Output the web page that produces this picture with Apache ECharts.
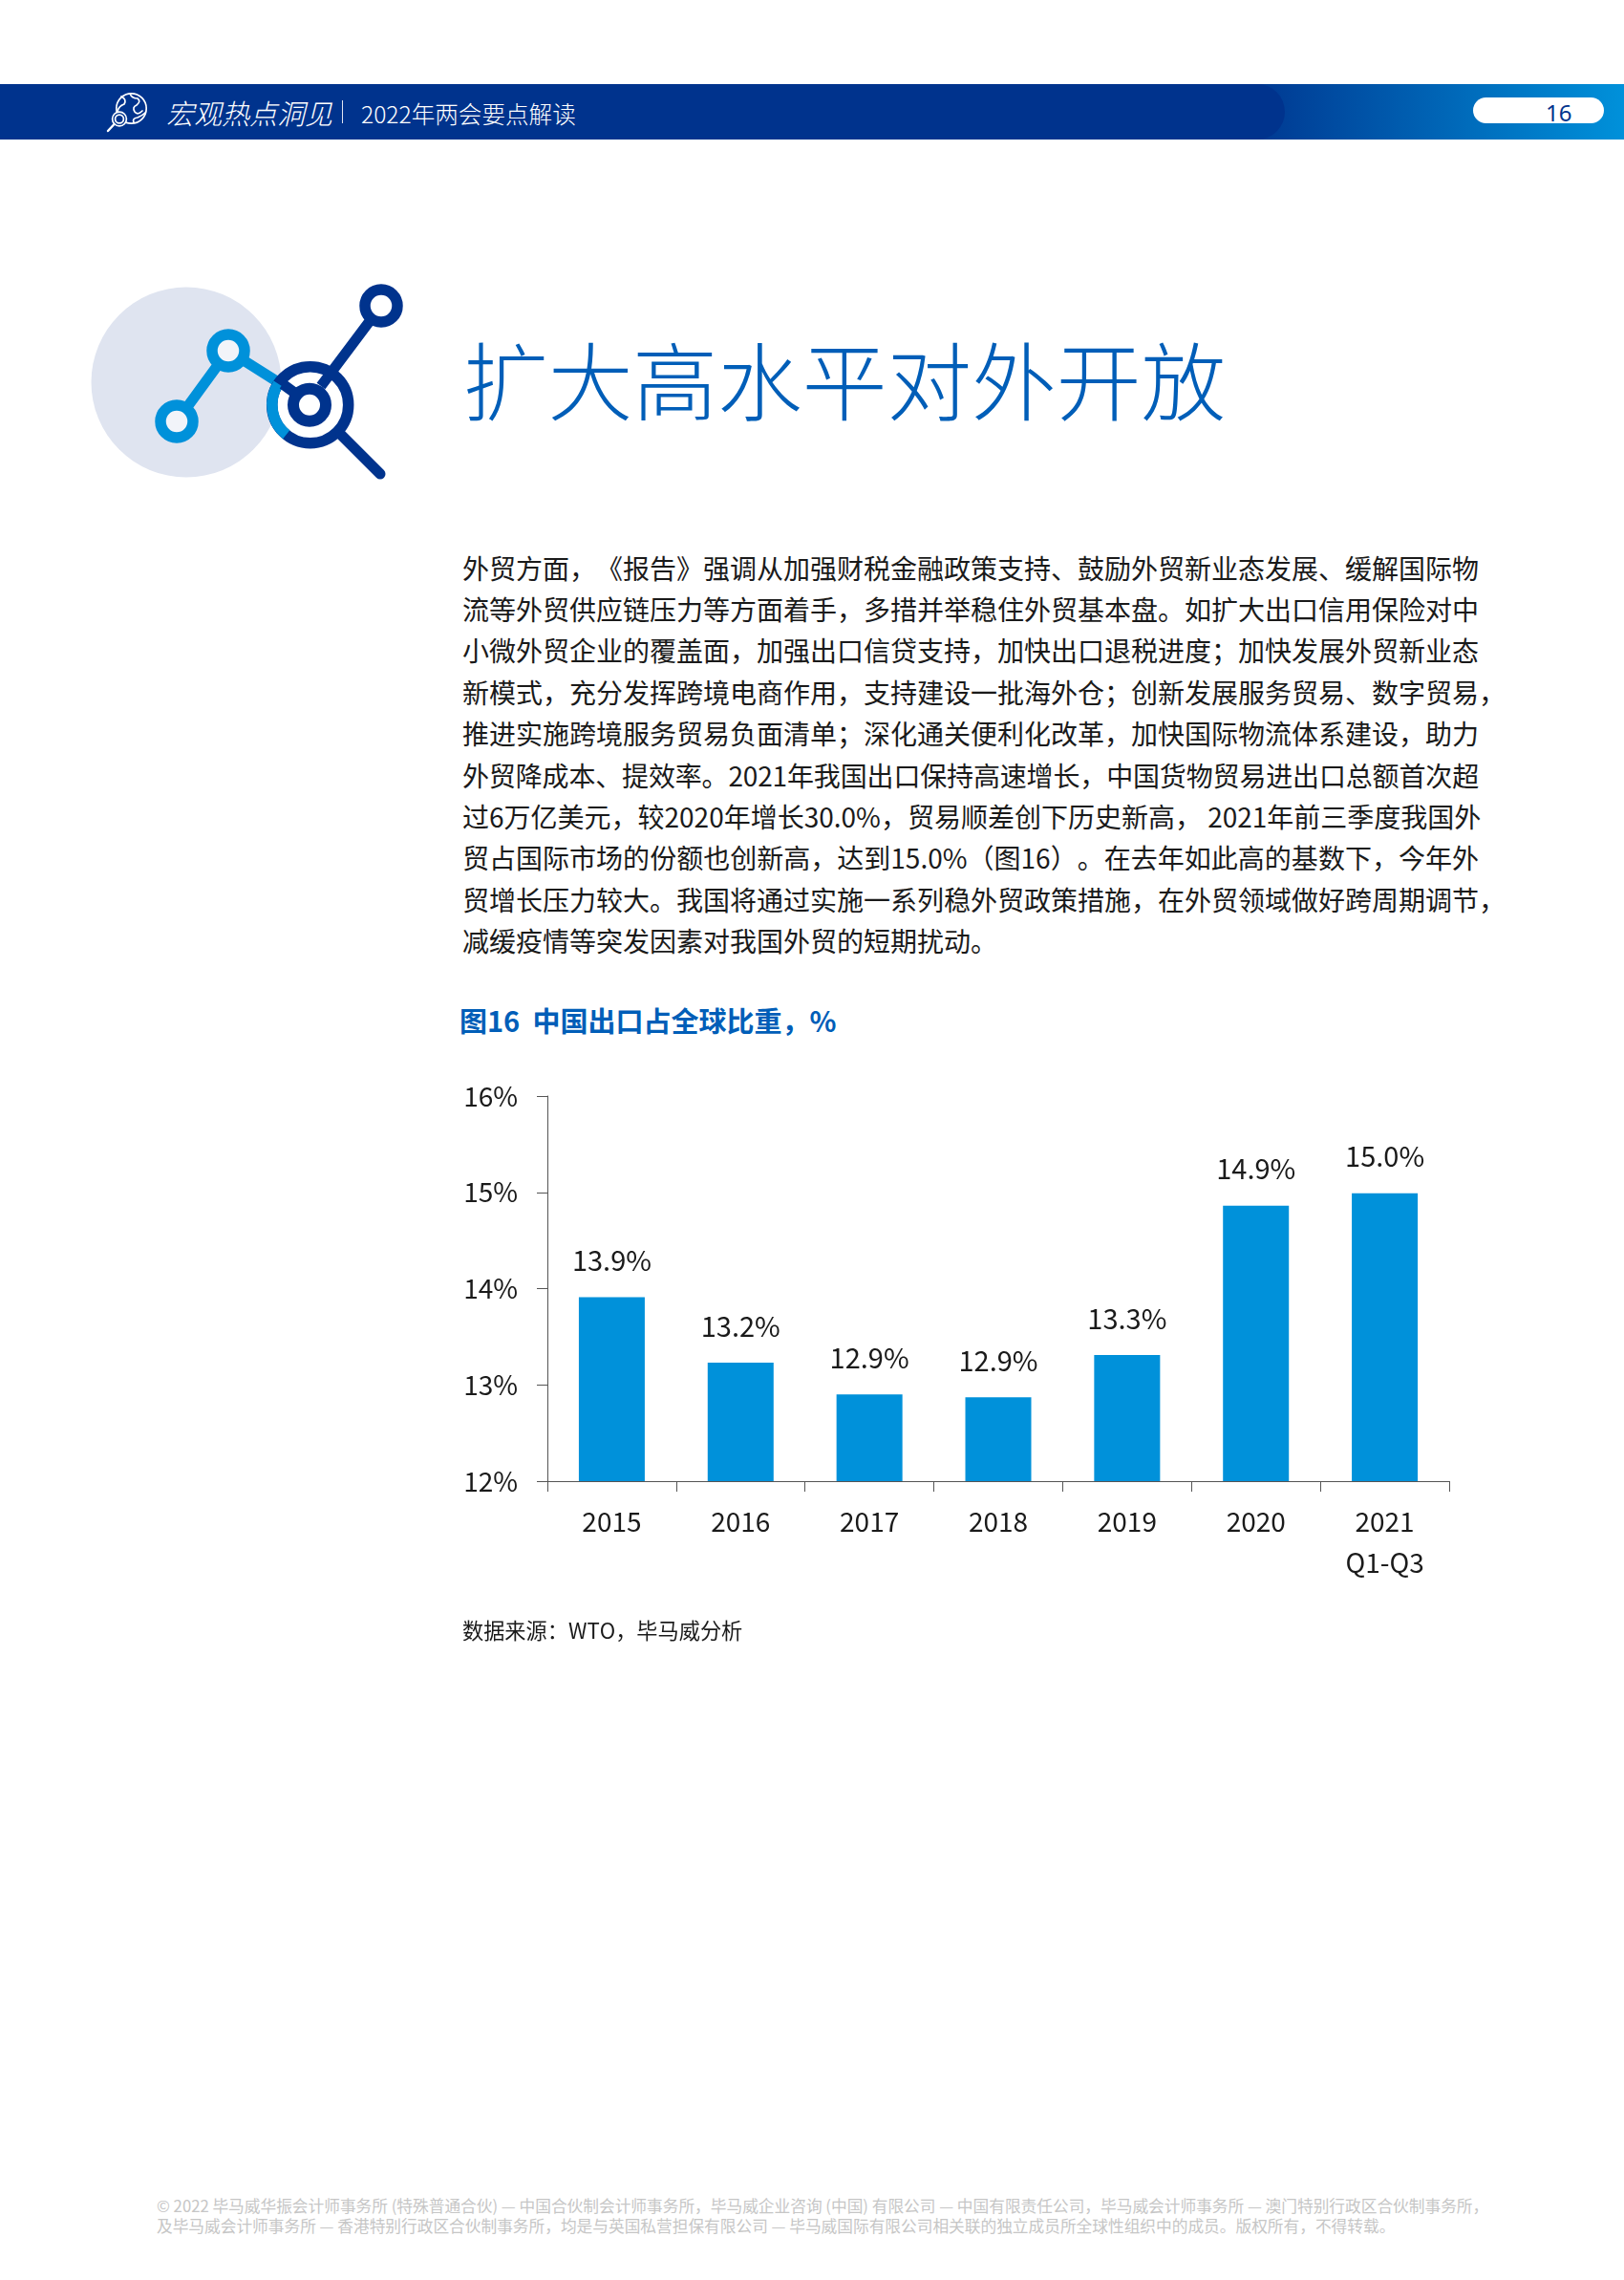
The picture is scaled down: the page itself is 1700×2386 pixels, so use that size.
<!DOCTYPE html>
<html>
<head>
    <meta charset="UTF-8"/>
    <script type="text/javascript" src="https://cdn.jsdelivr.net/npm/echarts@6/dist/echarts.min.js"></script>
    <title>扩大高水平对外开放</title>
    <style>
        html, body { margin: 0; padding: 0; background: #fff; }
        body { width: 1700px; height: 2386px; position: relative; overflow: hidden; font-family: "Noto Sans CJK SC", "Noto Sans", sans-serif; color: #1a1a1a; text-spacing-trim: space-all; font-kerning: none; }
        .abs { position: absolute; white-space: nowrap; }
        #bandBack { left: 0; top: 88px; width: 1700px; height: 58px; background: linear-gradient(90deg, #00338D 0, #00338D 1290px, #0091DA 1700px); }
        #bandFront { left: 0; top: 88px; width: 1345px; height: 58px; background: #00338D; border-radius: 0 30px 30px 0; }
        #pill { left: 1542px; top: 102px; width: 137px; height: 27px; background: #fff; border-radius: 14px; }
        #pageNo { left: 1618px; top: 102px; font-family: "Noto Sans", sans-serif; font-size: 24px; line-height: 32px; color: #00338D; }
        #brand { left: 174px; top: 99px; font-size: 29px; line-height: 36px; color: #fff; font-style: italic; font-weight: 300; }
        #sep { left: 358px; top: 105px; width: 1px; height: 24px; background: #dfe4f0; }
        #sub { left: 378px; top: 101px; font-size: 24.6px; line-height: 34px; color: #fff; font-weight: 300; }
        #bigTitle { left: 485px; top: 335px; font-size: 88.7px; line-height: 120px; color: #005EB8; font-weight: 300; }
        #body { left: 484px; top: 572.5px; font-size: 28px; line-height: 43.4px; }
        #body div { width: 1064px; text-align: justify; text-align-last: justify; }
        #body div.free { width: auto; text-align-last: left; }
        #figTitle { left: 481px: top: 1046.5px; }
        #figTitle { left: 481px; top: 1046px; font-size: 29px; line-height: 42px; font-weight: 700; color: #005EB8; }
        #source { left: 484px; top: 1689px; font-size: 22.2px; line-height: 32px; }
        #foot { left: 164px; top: 2298px; font-size: 16.7px; line-height: 21px; color: #c6c6c6; }
        #main { left: 460px; top: 1100px; width: 1100px; height: 600px; }
    </style>
</head>
<script type="text/javascript">
    var categories = ["2015", "2016", "2017", "2018", "2019", "2020", "2021\nQ1-Q3"]
    var shareValues = [13.91, 13.23, 12.9, 12.87, 13.31, 14.86, 14.99]
    var shareLabels = ["13.9%", "13.2%", "12.9%", "12.9%", "13.3%", "14.9%", "15.0%"]
    var myChart

    window.onload = function () {
        myChart = echarts.init(document.getElementById('main'), null, {renderer: 'canvas'})
        myChart.setOption({
            animation: false,
            grid: {left: 113, top: 47, width: 944, height: 403},
            textStyle: {fontFamily: '"Noto Sans CJK SC", "Noto Sans", sans-serif'},
            xAxis: {
                type: 'category',
                data: categories,
                axisLine: {lineStyle: {color: '#555', width: 1}},
                axisTick: {show: true, length: 11, lineStyle: {color: '#555', width: 1}},
                axisLabel: {color: '#1a1a1a', fontSize: 28, lineHeight: 43, margin: 21, interval: 0}
            },
            yAxis: {
                type: 'value',
                min: 12,
                max: 16,
                interval: 1,
                splitLine: {show: false},
                axisLine: {show: true, lineStyle: {color: '#555', width: 1}},
                axisTick: {show: true, length: 11, lineStyle: {color: '#555', width: 1}},
                axisLabel: {color: '#1a1a1a', fontSize: 28, margin: 31, formatter: '{value}%'}
            },
            series: [{
                type: 'bar',
                data: shareValues,
                barWidth: 69,
                itemStyle: {color: '#0091DA'},
                label: {
                    show: true,
                    position: 'top',
                    distance: 24,
                    color: '#1a1a1a',
                    fontSize: 29,
                    formatter: function (p) { return shareLabels[p.dataIndex] }
                }
            }]
        })
    }
</script>
<body>
<div class="abs" id="bandBack"></div>
<div class="abs" id="bandFront"></div>
<div class="abs" id="pill"></div>
<div class="abs" id="pageNo">16</div>
<svg class="abs" style="left:100px;top:90px" width="80" height="55" viewBox="0 0 80 55" fill="none" stroke="#fff" stroke-width="1.7" stroke-linecap="round">
    <circle cx="37.5" cy="23.5" r="15.7"/>
    <path d="M27 11 Q33 14 30 19 Q24 21 23 27 M36 8 Q38 13 44 13 Q48 16 43 20 Q38 22 41 27 Q44 31 49 26 M40 38 Q38 34 44 33 Q49 31 52 28"/>
    <circle cx="25" cy="34.5" r="7.4" fill="#00338D"/>
    <circle cx="25" cy="34.5" r="4.4"/>
    <path d="M19.5 40 L13 47" stroke-width="2.4"/>
</svg>
<div class="abs" id="brand">宏观热点洞见</div>
<div class="abs" id="sep"></div>
<div class="abs" id="sub">2022年两会要点解读</div>

<svg class="abs" style="left:0;top:0" width="500" height="560" fill="none">
    <circle cx="195" cy="400" r="99.5" fill="#dfe4f0"/>
    <path d="M185 441 L239 367 L296 403" stroke="#0091DA" stroke-width="11"/>
    <circle cx="185" cy="441" r="17" stroke="#0091DA" stroke-width="11.5" fill="#f2f4f9"/>
    <circle cx="239" cy="367" r="17" stroke="#0091DA" stroke-width="11.5" fill="#f2f4f9"/>
    <circle cx="324.7" cy="423.7" r="40" stroke="#00338D" stroke-width="11.5" fill="#fff"/>
    <path d="M291.3 401.7 A 40 40 0 0 0 299.7 454.7" stroke="#0091DA" stroke-width="11.5"/>
    <path d="M296 402 L318 418 M399 320 L336 404" stroke="#00338D" stroke-width="11"/>
    <path d="M357 455 L398 496" stroke="#00338D" stroke-width="11" stroke-linecap="round"/>
    <circle cx="399" cy="320" r="17" stroke="#00338D" stroke-width="11.5" fill="#fff"/>
    <circle cx="324" cy="423.7" r="17" stroke="#00338D" stroke-width="12" fill="#fff"/>
</svg>
<div class="abs" id="bigTitle">扩大高水平对外开放</div>

<div class="abs" id="body">
<div>外贸方面，《报告》强调从加强财税金融政策支持、鼓励外贸新业态发展、缓解国际物</div>
<div>流等外贸供应链压力等方面着手，多措并举稳住外贸基本盘。如扩大出口信用保险对中</div>
<div>小微外贸企业的覆盖面，加强出口信贷支持，加快出口退税进度；加快发展外贸新业态</div>
<div class="free">新模式，充分发挥跨境电商作用，支持建设一批海外仓；创新发展服务贸易、数字贸易，</div>
<div>推进实施跨境服务贸易负面清单；深化通关便利化改革，加快国际物流体系建设，助力</div>
<div style="letter-spacing:-0.16px">外贸降成本、提效率。2021年我国出口保持高速增长，中国货物贸易进出口总额首次超</div>
<div>过6万亿美元，较2020年增长30.0%，贸易顺差创下历史新高， 2021年前三季度我国外</div>
<div>贸占国际市场的份额也创新高，达到15.0%（图16）。在去年如此高的基数下，今年外</div>
<div class="free">贸增长压力较大。我国将通过实施一系列稳外贸政策措施，在外贸领域做好跨周期调节，</div>
<div class="free">减缓疫情等突发因素对我国外贸的短期扰动。</div>
</div>

<div class="abs" id="figTitle">图16&nbsp;&nbsp;中国出口占全球比重，%</div>
<div class="abs" id="main"></div>
<div class="abs" id="source">数据来源：WTO，毕马威分析</div>
<div class="abs" id="foot">© 2022 毕马威华振会计师事务所 (特殊普通合伙) — 中国合伙制会计师事务所，毕马威企业咨询 (中国) 有限公司 — 中国有限责任公司，毕马威会计师事务所 — 澳门特别行政区合伙制事务所，<br>
及毕马威会计师事务所 — 香港特别行政区合伙制事务所，均是与英国私营担保有限公司 — 毕马威国际有限公司相关联的独立成员所全球性组织中的成员。版权所有，不得转载。</div>
</body>
</html>
